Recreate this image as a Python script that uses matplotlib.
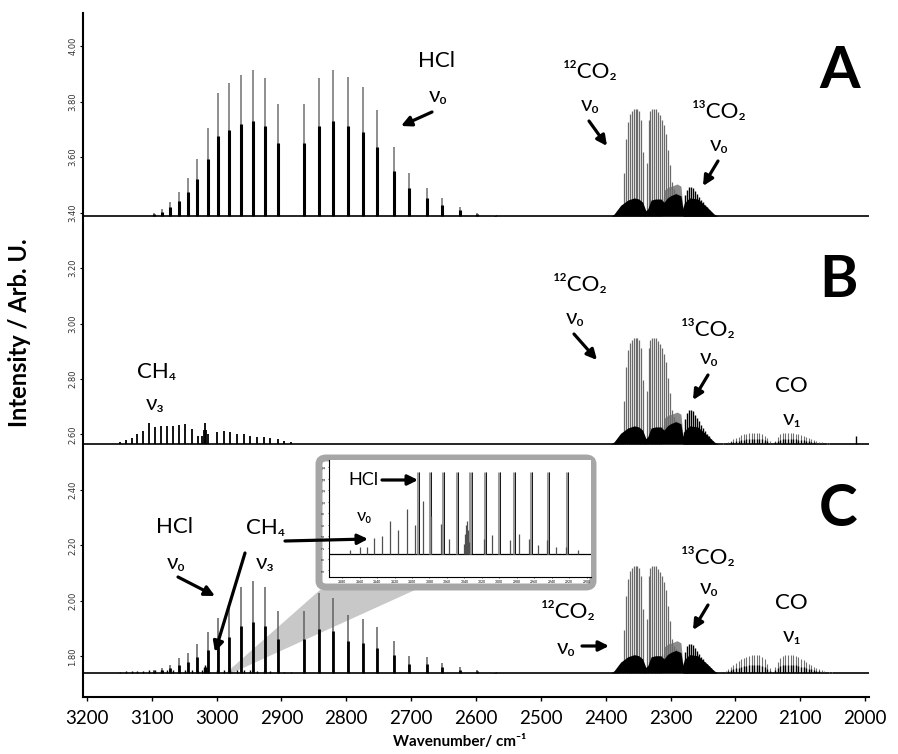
import matplotlib.pyplot as plt
from matplotlib.patches import FancyArrowPatch, FancyBboxPatch, Polygon

plt.rcParams['font.family'] = ['Lato', 'Noto Sans', 'DejaVu Sans']

# baselines of the stacked spectra A, B, C
baselines = [3.387, 2.566, 1.741]

# HCl v0 lines (R and P branch), cm-1
hcl_wn = [3097, 3084, 3072, 3058, 3044, 3030, 3014, 2998, 2981, 2962, 2944, 2925, 2905,
          2865, 2842, 2820, 2797, 2775, 2752, 2727, 2703, 2676, 2652, 2624, 2598, 2570]
hcl_a = [0.010, 0.024, 0.052, 0.086, 0.136, 0.207, 0.319, 0.442, 0.479, 0.509, 0.527, 0.497, 0.403,
         0.403, 0.497, 0.527, 0.501, 0.467, 0.383, 0.248, 0.156, 0.102, 0.064, 0.034, 0.012, 0.004]
hcl_c = [0.011, 0.018, 0.029, 0.054, 0.072, 0.105, 0.148, 0.199, 0.238, 0.310, 0.332, 0.310, 0.224,
         0.224, 0.289, 0.271, 0.209, 0.195, 0.166, 0.116, 0.061, 0.058, 0.036, 0.022, 0.011, 0.004]

# CH4 v3 lines
ch4_wn = [3149, 3140, 3131, 3122, 3113, 3104, 3095, 3086, 3076, 3067, 3058, 3048, 3038, 3029,
          3022, 3020, 3018, 3016, 3014,
          2999, 2989, 2979, 2968, 2958, 2948, 2938, 2927, 2917, 2906, 2896, 2885]
ch4_b = [0.008, 0.014, 0.022, 0.036, 0.046, 0.075, 0.060, 0.065, 0.066, 0.066, 0.070, 0.072, 0.054, 0.030,
         0.030, 0.050, 0.075, 0.050, 0.035,
         0.042, 0.046, 0.042, 0.034, 0.034, 0.030, 0.026, 0.024, 0.021, 0.016, 0.012, 0.006]
ch4_c = [0.004, 0.005, 0.006, 0.007, 0.008, 0.010, 0.010, 0.010, 0.011, 0.011, 0.011, 0.012, 0.010, 0.008,
         0.010, 0.020, 0.030, 0.020, 0.010,
         0.012, 0.012, 0.011, 0.010, 0.010, 0.009, 0.008, 0.007, 0.006, 0.005, 0.004, 0.003]

# 12CO2 v0 band, relative line heights
co2_wn = [2378, 2375, 2372, 2369, 2366, 2363, 2360, 2357, 2354, 2351, 2348, 2345, 2342,
          2337, 2334, 2331, 2328, 2325, 2322, 2319, 2316, 2313, 2310, 2307, 2304, 2301,
          2298, 2295, 2292, 2289, 2286, 2283]
co2_rel = [0.03, 0.10, 0.40, 0.72, 0.88, 0.95, 0.98, 1.00, 1.00, 1.00, 0.98, 0.90, 0.60,
           0.50, 0.90, 0.98, 1.00, 1.00, 1.00, 0.97, 0.94, 0.90, 0.85, 0.77, 0.62, 0.48,
           0.32, 0.25, 0.22, 0.20, 0.12, 0.06]
co2_peak = [0.386, 0.383, 0.386]

# hot bands underneath (black) and the overlapping grey region
hot_wn = [2392, 2387, 2377, 2366, 2356, 2349, 2343, 2338, 2335, 2330, 2323, 2315, 2310,
          2305, 2300, 2292, 2284, 2281, 2279, 2271, 2258, 2243, 2233, 2227]
hot_rel = [0.0, 0.02, 0.10, 0.15, 0.17, 0.16, 0.13, 0.05, 0.07, 0.15, 0.16, 0.16, 0.13,
           0.17, 0.19, 0.21, 0.19, 0.07, 0.12, 0.17, 0.16, 0.08, 0.02, 0.0]
haze_wn = [2314, 2310, 2304, 2298, 2290, 2284, 2281]
haze_rel = [0.0, 0.24, 0.27, 0.28, 0.30, 0.28, 0.08]

# 13CO2 v0 band
c13_wn = [2280, 2277, 2274, 2271, 2268, 2265, 2262, 2259, 2256, 2253, 2250, 2247, 2244,
          2241, 2238, 2235, 2232]
c13_rel = [0.35, 0.72, 0.92, 1.00, 1.00, 0.96, 0.86, 0.75, 0.66, 0.56, 0.48, 0.38, 0.30,
           0.22, 0.15, 0.09, 0.04]
c13_peak = [0.104, 0.123, 0.105]

# CO v1 band (R and P branch)
co_wn = [2219, 2215, 2211, 2207, 2203, 2199, 2195, 2191, 2187, 2183, 2179, 2175, 2171,
         2167, 2163, 2159, 2155, 2151, 2147,
         2139, 2135, 2131, 2127, 2123, 2119, 2115, 2111, 2107, 2103, 2099, 2095, 2091,
         2087, 2083, 2079, 2075, 2071, 2067, 2063, 2059, 2055, 2051]
co_rel = [0.05, 0.12, 0.20, 0.30, 0.42, 0.55, 0.66, 0.76, 0.85, 0.90, 0.95, 0.98, 1.00,
          1.00, 0.97, 0.90, 0.75, 0.50, 0.25,
          0.30, 0.60, 0.85, 0.95, 0.99, 1.00, 1.00, 0.97, 0.92, 0.86, 0.78, 0.70, 0.60,
          0.50, 0.42, 0.34, 0.26, 0.20, 0.15, 0.10, 0.07, 0.04, 0.02]
co_peak = [0.0, 0.040, 0.065]

# inset (zoom of spectrum C)
inset_tall_wn = [3093, 3079, 3064, 3049, 3033, 3016, 3000, 2983, 2964, 2944, 2923]
inset_small_wn = [3171, 3160, 3152, 3143, 3134, 3125, 3116, 3106, 3096, 3087, 3078, 3067, 3058,
                  3040, 3039, 3038, 3037, 3036, 3035,
                  3018, 3008, 2988, 2977, 2966, 2956, 2945, 2935, 2924, 2910]
inset_small_h = [0.05, 0.09, 0.09, 0.20, 0.22, 0.41, 0.30, 0.55, 0.35, 0.65, 0.47, 0.37, 0.19,
                 0.12, 0.25, 0.35, 0.41, 0.30, 0.15,
                 0.19, 0.23, 0.17, 0.25, 0.19, 0.11, 0.17, 0.09, 0.09, 0.05]

W, H = 898, 754


def fx(x):
    return x / W


def fy(y):
    return 1 - y / H


def tops(base, heights, scale=1.0):
    return [base + scale * h for h in heights]


fig = plt.figure(figsize=(8.98, 7.54), dpi=100)
ax = fig.add_axes([fx(83), fy(697), fx(869) - fx(83), fy(13) - fy(697)])

for i, base in enumerate(baselines):
    ax.axhline(base, color='black', lw=1.2, zorder=1.5)

    # HCl
    if i == 0:
        ax.vlines(hcl_wn, base, tops(base, hcl_a), color='#707070', lw=1.1, zorder=2)
        ax.vlines(hcl_wn, base, tops(base, hcl_a, 0.65), color='black', lw=2.2, zorder=2.1)
    if i == 2:
        ax.vlines(hcl_wn, base, tops(base, hcl_c), color='#606060', lw=1.1, zorder=2)
        ax.vlines(hcl_wn, base, tops(base, hcl_c, 0.55), color='black', lw=2.0, zorder=2.1)

    # CH4
    if i == 1:
        ax.vlines(ch4_wn, base, tops(base, ch4_b), color='black', lw=1.3, zorder=2)
    if i == 2:
        ax.vlines(ch4_wn, base, tops(base, ch4_c), color='black', lw=1.0, zorder=2)

    # CO2 bands
    p = co2_peak[i]
    ax.fill_between(haze_wn, base, tops(base, haze_rel, p), color='#8c8c8c', lw=0, zorder=1.8)
    ax.vlines(co2_wn, base, tops(base, co2_rel, p), color='#6a6a6a', lw=0.9, zorder=2)
    ax.fill_between(hot_wn, base, tops(base, hot_rel, p), color='black', lw=0, zorder=2.5)
    ax.vlines(c13_wn, base, tops(base, c13_rel, c13_peak[i]), color='black', lw=1.0, zorder=2.6)

    # CO
    if co_peak[i] > 0:
        ax.vlines(co_wn, base, tops(base, co_rel, co_peak[i]), color='#707070', lw=0.8, zorder=2)
        ax.vlines(co_wn, base, tops(base, co_rel, co_peak[i] * 0.45), color='black', lw=1.0, zorder=2.1)

# small spike at the end of spectrum B
ax.vlines([2014], baselines[1], baselines[1] + 0.029, color='black', lw=1.0)

ax.set_xlim(3206, 1994)
ax.set_ylim(1.654, 4.119)
ax.spines['top'].set_visible(False)
ax.spines['right'].set_visible(False)
ax.spines['left'].set_linewidth(1.5)
ax.spines['bottom'].set_linewidth(1.5)
ax.set_xticks(range(3200, 1999, -100))
ax.tick_params(axis='x', labelsize=13.5, length=3, width=1, pad=6)
yt = [1.8, 2.0, 2.2, 2.4, 2.6, 2.8, 3.0, 3.2, 3.4, 3.6, 3.8, 4.0]
ax.set_yticks(yt)
ax.set_yticklabels(['%.2f' % v for v in yt], rotation=90, va='center', fontsize=6,
                   color='#333333', family='DejaVu Sans')
ax.tick_params(axis='y', length=2, pad=2)

# grey wedge from spectrum C to the inset
ax.add_patch(Polygon([(fx(320), fy(590)), (fx(415), fy(590)), (fx(232), fy(673)), (fx(226), fy(673))],
                     closed=True, transform=fig.transFigure, facecolor='#c8c8c8',
                     edgecolor='none', zorder=0.5, clip_on=False))

# inset frame
box = FancyBboxPatch((fx(319), fy(587)), fx(593) - fx(319), fy(458) - fy(587),
                     boxstyle='round,pad=0,rounding_size=0.008', transform=fig.transFigure,
                     facecolor='white', edgecolor='#a6a6a6', lw=5, zorder=2)
fig.add_artist(box)

ins = fig.add_axes([fx(329), fy(577), fx(591) - fx(329), fy(460) - fy(577)])
ins.set_zorder(3)
ins.axhline(0, color='black', lw=0.9)
ins.vlines(inset_tall_wn, 0, 1.0, color='#9a9a9a', lw=2.2)
ins.vlines([w - 1.2 for w in inset_tall_wn], 0, 1.0, color='black', lw=0.6)
ins.vlines(inset_small_wn, 0, inset_small_h, color='#505050', lw=0.9)
ins.set_xlim(3195, 2895)
ins.set_ylim(-0.28, 1.15)
ins.set_xticks([3180, 3160, 3140, 3120, 3100, 3080, 3060, 3040, 3020, 3000, 2980, 2960, 2940, 2920, 2900])
ins.set_yticks([-0.2, -0.06, 0.08, 0.22, 0.36, 0.5, 0.64, 0.78, 0.92, 1.06])
ins.tick_params(labelsize=2.5, length=1, width=0.5, pad=1)
ins.set_yticklabels(['-2', '0', '2', '4', '6', '8', '10', '12', '14', '16'], rotation=90, va='center')
ins.spines['top'].set_visible(False)
ins.spines['right'].set_visible(False)
ins.spines['left'].set_linewidth(0.8)
ins.spines['bottom'].set_linewidth(0.8)


def txt(x, y, s, size=16, **kw):
    fig.text(fx(x), fy(y), s, ha='center', va='center', fontsize=size, zorder=6, **kw)


def arrow(x0, y0, x1, y1):
    fig.add_artist(FancyArrowPatch((fx(x0), fy(y0)), (fx(x1), fy(y1)), transform=fig.transFigure,
                                   arrowstyle='-|>', mutation_scale=15, lw=2.3, color='black',
                                   shrinkA=0, shrinkB=0, zorder=6))


# panel A
txt(437, 61, 'HCl')
txt(438, 96, 'ν₀')
arrow(432, 112, 401, 126)
txt(590, 72, '¹²CO₂')
txt(590, 105, 'ν₀')
arrow(589, 121, 607, 146)
txt(719, 112, '¹³CO₂')
txt(719, 145, 'ν₀')
arrow(718, 161, 703, 186)
txt(840, 71, 'A', size=42, fontweight='bold')

# panel B
txt(580, 285, '¹²CO₂')
txt(575, 318, 'ν₀')
arrow(574, 334, 597, 360)
txt(708, 330, '¹³CO₂')
txt(709, 358, 'ν₀')
arrow(708, 375, 693, 400)
txt(791, 386, 'CO')
txt(792, 419, 'ν₁')
txt(157, 372, 'CH₄')
txt(155, 404, 'ν₃')
txt(838, 280, 'B', size=42, fontweight='bold')

# panel C
txt(175, 527, 'HCl')
txt(176, 563, 'ν₀')
arrow(178, 577, 215, 596)
txt(266, 528, 'CH₄')
txt(265, 563, 'ν₃')
arrow(245, 553, 215, 652)
arrow(285, 541, 368, 539)
txt(363, 480, 'HCl', size=13)
arrow(382, 480, 418, 480)
txt(364, 516, 'ν₀', size=13)
txt(568, 612, '¹²CO₂')
txt(566, 648, 'ν₀')
arrow(582, 646, 609, 646)
txt(708, 558, '¹³CO₂')
txt(709, 588, 'ν₀')
arrow(708, 605, 693, 630)
txt(791, 603, 'CO')
txt(792, 636, 'ν₁')
txt(838, 510, 'C', size=42, fontweight='bold')

# axis titles
fig.text(fx(20), fy(333), 'Intensity / Arb. U.', rotation=90, ha='center', va='center',
         fontsize=17, fontweight='bold')
fig.text(fx(460), fy(742), 'Wavenumber/ cm⁻¹', ha='center', va='center',
         fontsize=11, fontweight='bold')

fig.savefig('out.png', dpi=100)
